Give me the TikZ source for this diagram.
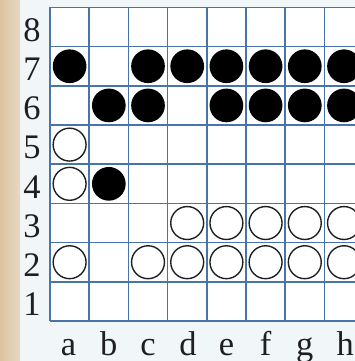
\documentclass[tikz,border=0pt]{standalone}
\usepackage{fontspec}
\setmainfont{Liberation Serif}
\definecolor{gridblue}{RGB}{72,116,166}
\definecolor{paper}{RGB}{241,246,249}
\definecolor{edge}{RGB}{222,196,158}
\definecolor{ink}{RGB}{30,30,35}

\begin{document}
\begin{tikzpicture}[
  blackstone/.style={circle, fill=black, minimum size=0.86cm, inner sep=0pt},
  whitestone/.style={circle, draw=ink, fill=white, line width=1pt, minimum size=0.84cm, inner sep=0pt},
  rowlabel/.style={font=\fontsize{25}{25}\selectfont, text=ink, inner sep=0pt},
  collabel/.style={font=\fontsize{25}{25}\selectfont, text=ink, inner sep=0pt, anchor=base},
  gridline/.style={draw=gridblue, line width=1.1pt}
]
% paper and scanned edge
\fill[paper] (-1.276,-1.02) rectangle (7.78,8.19);
\useasboundingbox (-1.276,-1.02) rectangle (7.78,8.19);
\shade[left color=edge, right color=edge!60!paper] (-1.276,-1.02) rectangle (-0.765,8.19);

% board
\fill[white] (0,0) rectangle (8,8);
\draw[gridline] (0,0) grid (8,8);

% coordinates
\foreach \r in {1,...,8}
  \node[rowlabel] (n\r) at (-0.46,\r-0.58) {\r};
\foreach \c/\x in {a/0.47,b/1.5,c/2.5,d/3.52,e/4.5,f/5.5,g/6.5,h/7.53}
  \node[collabel] (l\c) at (\x,-0.87) {\c};

% black stones
\node[blackstone] (a7) at (0.5,6.5) {};
\node[blackstone] (c7) at (2.5,6.5) {};
\node[blackstone] (d7) at (3.5,6.5) {};
\node[blackstone] (e7) at (4.5,6.5) {};
\node[blackstone] (f7) at (5.5,6.5) {};
\node[blackstone] (g7) at (6.5,6.5) {};
\node[blackstone] (h7) at (7.5,6.5) {};
\node[blackstone] (b6) at (1.5,5.5) {};
\node[blackstone] (c6) at (2.5,5.5) {};
\node[blackstone] (e6) at (4.5,5.5) {};
\node[blackstone] (f6) at (5.5,5.5) {};
\node[blackstone] (g6) at (6.5,5.5) {};
\node[blackstone] (h6) at (7.5,5.5) {};
\node[blackstone] (b4) at (1.5,3.5) {};

% white stones
\node[whitestone] (a5) at (0.5,4.5) {};
\node[whitestone] (a4) at (0.5,3.5) {};
\node[whitestone] (d3) at (3.5,2.5) {};
\node[whitestone] (e3) at (4.5,2.5) {};
\node[whitestone] (f3) at (5.5,2.5) {};
\node[whitestone] (g3) at (6.5,2.5) {};
\node[whitestone] (h3) at (7.5,2.5) {};
\node[whitestone] (a2) at (0.5,1.5) {};
\node[whitestone] (c2) at (2.5,1.5) {};
\node[whitestone] (d2) at (3.5,1.5) {};
\node[whitestone] (e2) at (4.5,1.5) {};
\node[whitestone] (f2) at (5.5,1.5) {};
\node[whitestone] (g2) at (6.5,1.5) {};
\node[whitestone] (h2) at (7.5,1.5) {};
\end{tikzpicture}
\end{document}
